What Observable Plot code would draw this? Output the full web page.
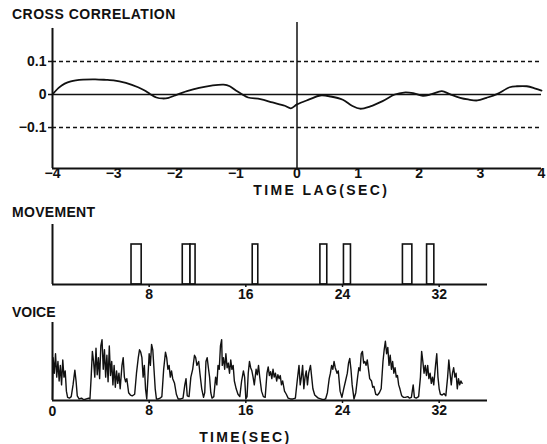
<!DOCTYPE html>
<html><head><meta charset="utf-8">
<script src="https://cdn.jsdelivr.net/npm/d3@7"></script>
<script src="https://cdn.jsdelivr.net/npm/@observablehq/plot@0.6"></script>
<style>
body{margin:0;background:#fff;}
#wrap{position:relative;width:547px;height:444px;overflow:hidden;font-family:"Liberation Sans",Arial,sans-serif;font-weight:bold;color:#111;}
.lbl{position:absolute;font-size:14px;white-space:nowrap;line-height:14px;}
.panel{position:absolute;left:0;}
</style></head><body><div id="wrap"></div>
<script>
// ---------- data ----------
const lagTicks = [-4,-3,-2,-1,0,1,2,3,4];
const ccTicks = [-0.1, 0, 0.1];
const ccTickLabels = ["\u22120.1", "0", "0.1"];
const lagTime = [-4.0,-3.9,-3.8,-3.7,-3.5,-3.3,-3.1,-3.0,-2.8,-2.6,-2.5,-2.4,-2.3,-2.2,-2.1,-2.0,-1.8,-1.6,-1.4,-1.2,-1.1,-1.0,-0.9,-0.8,-0.6,-0.4,-0.2,-0.1,0.0,0.2,0.38,0.55,0.75,0.9,1.03,1.2,1.4,1.6,1.75,1.9,2.06,2.2,2.37,2.5,2.67,2.8,2.95,3.1,3.27,3.48,3.6,3.76,3.9,4.0];
const ccValue = [0.0,0.02,0.033,0.04,0.045,0.046,0.044,0.043,0.035,0.022,0.013,0.001,-0.009,-0.012,-0.01,-0.003,0.01,0.02,0.027,0.03,0.025,0.012,0.001,-0.009,-0.014,-0.024,-0.034,-0.042,-0.03,-0.015,-0.003,-0.006,-0.016,-0.034,-0.043,-0.036,-0.02,0.0,0.006,0.004,-0.004,0.001,0.01,0.001,-0.01,-0.015,-0.018,-0.01,0.001,0.022,0.025,0.025,0.018,0.012];

const timeTicksMove = [8,16,24,32];
const timeTicksVoice = [0,8,16,24,32];
const moveStart = [6.54,10.78,11.42,16.57,22.17,24.12,29.0,31.0];
const moveEnd   = [7.38,11.42,11.84,17.03,22.74,24.70,29.78,31.6];

const voiceTime = [0.0,0.05,0.15,0.25,0.35,0.45,0.55,0.65,0.75,0.85,0.95,1.05,1.15,1.25,1.4,1.55,1.7,1.85,1.95,2.05,2.2,2.4,2.6,2.8,3.0,3.1,3.2,3.3,3.4,3.5,3.6,3.7,3.8,3.9,4.0,4.1,4.2,4.3,4.4,4.5,4.6,4.7,4.8,4.9,5.0,5.1,5.2,5.3,5.4,5.5,5.6,5.75,5.85,5.95,6.05,6.15,6.3,6.45,6.6,6.8,6.95,7.1,7.2,7.3,7.4,7.5,7.6,7.7,7.8,7.9,8.0,8.1,8.2,8.3,8.4,8.5,8.6,8.75,8.9,9.05,9.2,9.35,9.45,9.55,9.65,9.75,9.85,9.95,10.1,10.25,10.4,10.6,10.8,10.95,11.05,11.15,11.3,11.45,11.6,11.75,11.85,11.95,12.1,12.2,12.35,12.5,12.6,12.7,12.8,12.9,13.0,13.1,13.2,13.35,13.5,13.6,13.7,13.8,13.9,14.0,14.05,14.15,14.25,14.35,14.45,14.55,14.65,14.75,14.85,14.95,15.05,15.2,15.35,15.5,15.65,15.8,15.9,16.0,16.1,16.2,16.3,16.4,16.5,16.6,16.7,16.85,16.95,17.05,17.15,17.3,17.45,17.6,17.75,17.85,17.95,18.05,18.15,18.25,18.35,18.45,18.55,18.65,18.75,18.85,18.95,19.05,19.2,19.35,19.5,19.7,19.9,20.1,20.25,20.4,20.5,20.6,20.7,20.8,20.9,21.0,21.1,21.2,21.35,21.45,21.55,21.7,21.85,22.0,22.2,22.4,22.6,22.75,22.9,23.0,23.1,23.2,23.3,23.4,23.55,23.65,23.8,23.95,24.1,24.25,24.4,24.5,24.6,24.7,24.8,24.95,25.1,25.25,25.35,25.45,25.55,25.65,25.75,25.85,25.95,26.05,26.15,26.25,26.4,26.5,26.6,26.75,26.9,27.05,27.2,27.35,27.45,27.55,27.65,27.75,27.85,27.95,28.05,28.15,28.25,28.35,28.45,28.55,28.65,28.75,28.9,29.05,29.2,29.4,29.55,29.7,29.85,29.95,30.1,30.3,30.45,30.55,30.65,30.75,30.85,30.95,31.05,31.15,31.25,31.35,31.45,31.55,31.7,31.8,31.9,32.0,32.1,32.25,32.4,32.55,32.7,32.8,32.9,33.0,33.1,33.2,33.3,33.4,33.5,33.6,33.7,33.8,33.9];
const voiceLevel = [0.02,0.55,0.35,0.6,0.3,0.5,0.25,0.45,0.2,0.52,0.3,0.38,0.12,0.04,0.03,0.05,0.2,0.39,0.25,0.06,0.02,0.03,0.01,0.02,0.03,0.02,0.3,0.63,0.5,0.3,0.67,0.33,0.55,0.28,0.7,0.78,0.4,0.65,0.3,0.58,0.24,0.7,0.32,0.5,0.2,0.45,0.17,0.38,0.22,0.35,0.15,0.45,0.55,0.3,0.24,0.28,0.1,0.07,0.06,0.08,0.35,0.55,0.65,0.62,0.55,0.3,0.45,0.15,0.02,0.3,0.6,0.45,0.72,0.65,0.4,0.15,0.02,0.02,0.03,0.05,0.4,0.62,0.55,0.4,0.45,0.3,0.38,0.28,0.22,0.08,0.02,0.02,0.03,0.2,0.28,0.06,0.05,0.3,0.4,0.58,0.55,0.45,0.5,0.35,0.15,0.04,0.1,0.5,0.55,0.42,0.3,0.1,0.03,0.05,0.3,0.2,0.45,0.4,0.7,0.78,0.45,0.55,0.4,0.6,0.42,0.48,0.35,0.52,0.4,0.45,0.25,0.15,0.08,0.05,0.25,0.38,0.3,0.02,0.05,0.35,0.5,0.42,0.38,0.3,0.2,0.4,0.33,0.45,0.3,0.12,0.05,0.04,0.35,0.43,0.32,0.37,0.28,0.4,0.3,0.35,0.25,0.33,0.28,0.32,0.2,0.25,0.12,0.08,0.03,0.02,0.02,0.03,0.25,0.45,0.2,0.3,0.45,0.15,0.3,0.38,0.2,0.35,0.45,0.3,0.15,0.07,0.05,0.03,0.02,0.01,0.02,0.1,0.28,0.35,0.45,0.4,0.5,0.42,0.35,0.38,0.12,0.04,0.15,0.25,0.35,0.48,0.54,0.4,0.2,0.02,0.1,0.3,0.42,0.38,0.6,0.63,0.48,0.5,0.45,0.52,0.4,0.28,0.25,0.17,0.18,0.08,0.07,0.1,0.15,0.5,0.65,0.76,0.6,0.68,0.45,0.58,0.4,0.5,0.35,0.42,0.3,0.32,0.2,0.15,0.06,0.04,0.04,0.05,0.03,0.04,0.2,0.04,0.03,0.05,0.3,0.63,0.5,0.35,0.45,0.32,0.45,0.28,0.35,0.22,0.3,0.2,0.45,0.6,0.3,0.15,0.08,0.07,0.09,0.06,0.3,0.52,0.35,0.2,0.35,0.42,0.3,0.35,0.15,0.28,0.2,0.25,0.22];

// ---------- build ----------
const wrap = document.getElementById("wrap");
const ink = "#111";
const style = {fontFamily:"'Liberation Sans', Arial, sans-serif", fontSize:"14px", fontWeight:"bold", background:"transparent", overflow:"visible", color: ink};

function addLabel(text, left, top, center, spacing) {
  const d = document.createElement("div");
  d.className = "lbl";
  d.textContent = text;
  d.style.top = top + "px";
  if (spacing) d.style.letterSpacing = spacing + "px";
  wrap.appendChild(d);
  if (center) d.style.left = (left - d.offsetWidth / 2 + (spacing||0)/2) + "px";
  else d.style.left = left + "px";
}
function addPanel(svg, top) {
  svg.classList.add("panel");
  svg.style.top = top + "px";
  wrap.appendChild(svg);
}

// Panel 1: cross correlation
const cc = lagTime.map((t, i) => ({t, v: ccValue[i]}));
const yBot = -0.224, yTop = 0.218;
const p1 = Plot.plot({
  width: 547, height: 200, marginLeft: 52, marginRight: 6, marginTop: 22, marginBottom: 32,
  style,
  x: {domain: [-4, 4]},
  y: {domain: [yBot, yTop]},
  marks: [
    Plot.axisX(lagTicks, {tickSize: 0, tickPadding: 0, label: null, fill: ink}),
    Plot.axisY(ccTicks, {tickSize: 4, tickPadding: 2, label: null, fill: ink, strokeWidth: 1.5,
      tickFormat: d => ccTickLabels[ccTicks.indexOf(d)]}),
    Plot.ruleY(ccTicks.filter(d => d !== 0), {stroke: ink, strokeWidth: 1.6, strokeDasharray: "4,3"}),
    Plot.ruleY([0], {stroke: ink, strokeWidth: 1.5}),
    Plot.ruleX([0], {stroke: ink, strokeWidth: 1.5}),
    Plot.ruleX([-4], {y1: yBot, y2: 0.2, stroke: ink, strokeWidth: 2}),
    Plot.ruleY([yBot], {stroke: ink, strokeWidth: 2}),
    Plot.line(cc, {x: "t", y: "v", stroke: ink, strokeWidth: 1.8, curve: "catmull-rom"})
  ]
});
addPanel(p1, 0);

// Panel 2: movement
const moves = moveStart.map((s, i) => ({start: s, end: moveEnd[i]}));
const p2 = Plot.plot({
  width: 547, height: 100, marginLeft: 52, marginRight: 60, marginTop: 24, marginBottom: 16,
  style,
  x: {domain: [0, 36]},
  y: {domain: [0, 1.5], axis: null},
  marks: [
    Plot.axisX(timeTicksMove, {tickSize: 3, tickPadding: 2, label: null, fill: ink, strokeWidth: 1.5}),
    Plot.rect(moves, {x1: "start", x2: "end", y1: 0, y2: 1, fill: "white", stroke: ink, strokeWidth: 1.6}),
    Plot.ruleX([0], {stroke: ink, strokeWidth: 2}),
    Plot.ruleY([0], {stroke: ink, strokeWidth: 2})
  ]
});
addPanel(p2, 200);

// Panel 3: voice
const voice = voiceTime.map((t, i) => ({t, v: voiceLevel[i]}));
const p3 = Plot.plot({
  width: 547, height: 144, marginLeft: 52, marginRight: 60, marginTop: 22, marginBottom: 44,
  style,
  x: {domain: [0, 36]},
  y: {domain: [0, 1], axis: null},
  marks: [
    Plot.axisX(timeTicksVoice.filter(d => d !== 0), {tickSize: 3, tickPadding: 2, label: null, fill: ink, strokeWidth: 1.5}),
    Plot.axisX(timeTicksVoice.filter(d => d === 0), {tickSize: 0, tickPadding: 6, label: null, fill: ink}),
    Plot.line(voice, {x: "t", y: "v", stroke: ink, strokeWidth: 1.4}),
    Plot.ruleX([0], {stroke: ink, strokeWidth: 2}),
    Plot.ruleY([0], {stroke: ink, strokeWidth: 2})
  ]
});
addPanel(p3, 300);

// Titles and axis names
addLabel("CROSS CORRELATION", 12, 7, false, 0.5);
addLabel("TIME LAG(SEC)", 320, 183, true, 2.4);
addLabel("MOVEMENT", 12, 205, false, 0.3);
addLabel("VOICE", 12, 305, false, 0);
addLabel("TIME(SEC)", 244, 430, true, 2.3);
</script>
</body></html>
